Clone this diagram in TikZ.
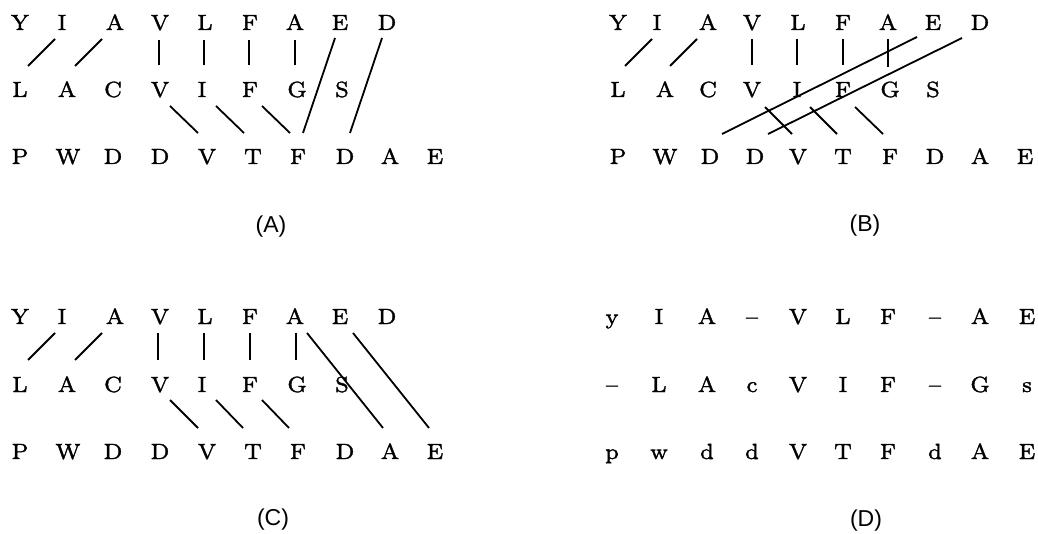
\documentclass[tikz,border=0pt]{standalone}
\usepackage{fontspec}
\newfontfamily\lblfont{Liberation Sans}
\newfontfamily\ltfont{lmroman7-regular}[Extension=.otf, FakeBold=1.5, Ligatures=TeX]
\newcommand\lnk[4]{\draw[lkst] ([shift={(#2)}]#1.base) -- ([shift={(#4)}]#3.base);}
\begin{document}
\begin{tikzpicture}[x=1pt,y=-1pt,
  lt/.style={anchor=base, inner sep=0pt, font=\ltfont\fontsize{22}{26}\selectfont},
  lkst/.style={line width=1.8pt},
  capst/.style={font=\lblfont\fontsize{23}{27}\selectfont, inner sep=0pt}]
\useasboundingbox (0,0) rectangle (1038,534);

% ---------- Panel A ----------
\foreach \x/\t [count=\i] in {20/Y,62/I,115/A,160/V,205/L,250/F,295/A,340/E,387/D}
  \node[lt] (A1-\i) at (\x,30) {\t};
\foreach \x/\t [count=\i] in {20/L,67/A,113/C,160/V,202/I,250/F,297/G,342/S}
  \node[lt] (A2-\i) at (\x,97) {\t};
\foreach \x/\t [count=\i] in {20/P,68/W,113/D,160/D,207/V,253/T,298/F,345/D,390/A,435/E}
  \node[lt] (A3-\i) at (\x,164) {\t};
\lnk{A1-2}{-7,9}{A2-1}{8,-31}
\lnk{A1-3}{-13,9}{A2-2}{8,-31}
\lnk{A1-4}{-1,10}{A2-4}{-1,-32}
\lnk{A1-5}{-1,10}{A2-5}{2,-32}
\lnk{A1-6}{-1,10}{A2-6}{-1,-32}
\lnk{A1-7}{0,10}{A2-7}{-2,-32}
\lnk{A1-8}{-5,8}{A3-7}{5,-31}
\lnk{A1-9}{-5,8}{A3-8}{5,-31}
\lnk{A2-4}{10,9}{A3-5}{-9,-31}
\lnk{A2-5}{14,9}{A3-6}{-9,-31}
\lnk{A2-6}{12,9}{A3-7}{-8,-31}
\node[capst] (la) at (271,227) {(A)};

% ---------- Panel B ----------
\foreach \x/\t [count=\i] in {618/Y,657/I,708/A,752/V,798/L,843/F,888/A,933/E,980/D}
  \node[lt] (B1-\i) at (\x,30) {\t};
\foreach \x/\t [count=\i] in {618/L,665/A,708/C,752/V,797/I,843/F,890/G,933/S}
  \node[lt] (B2-\i) at (\x,97) {\t};
\foreach \x/\t [count=\i] in {618/P,665/W,710/D,755/D,798/V,843/T,890/F,935/D,980/A,1025/E}
  \node[lt] (B3-\i) at (\x,164) {\t};
\lnk{B1-2}{-5,9}{B2-1}{7,-31}
\lnk{B1-3}{-11,9}{B2-2}{5,-31}
\lnk{B1-4}{0,9}{B2-4}{0,-32}
\lnk{B1-5}{-1,9}{B2-5}{0,-32}
\lnk{B1-6}{0,9}{B2-6}{0,-32}
\lnk{B1-7}{0,9}{B2-7}{-2,-30}
\lnk{B1-8}{-16,7}{B3-3}{12,-30}
\lnk{B1-9}{-18,8}{B3-4}{13,-30}
\lnk{B2-4}{13,10}{B3-5}{-6,-30}
\lnk{B2-5}{13,10}{B3-6}{-6,-30}
\lnk{B2-6}{12,10}{B3-7}{-7,-30}
\node[capst] (lb) at (865,226) {(B)};

% ---------- Panel C ----------
\foreach \x/\t [count=\i] in {20/Y,62/I,115/A,160/V,205/L,250/F,295/A,340/E,387/D}
  \node[lt] (C1-\i) at (\x,324) {\t};
\foreach \x/\t [count=\i] in {20/L,67/A,113/C,160/V,202/I,250/F,297/G,342/S}
  \node[lt] (C2-\i) at (\x,392) {\t};
\foreach \x/\t [count=\i] in {20/P,68/W,113/D,160/D,207/V,253/T,298/F,345/D,390/A,435/E}
  \node[lt] (C3-\i) at (\x,459) {\t};
\lnk{C1-2}{-7,9}{C2-1}{8,-32}
\lnk{C1-3}{-13,9}{C2-2}{8,-32}
\lnk{C1-4}{-2,9}{C2-4}{-2,-32}
\lnk{C1-5}{-1,9}{C2-5}{2,-32}
\lnk{C1-6}{0,9}{C2-6}{0,-32}
\lnk{C1-7}{1,9}{C2-7}{-1,-32}
\lnk{C1-7}{12,9}{C3-9}{-7,-31}
\lnk{C1-8}{13,9}{C3-10}{-6,-31}
\lnk{C2-4}{10,8}{C3-5}{-9,-31}
\lnk{C2-5}{14,8}{C3-6}{-10,-31}
\lnk{C2-6}{12,8}{C3-7}{-9,-31}
\node[capst] (lc) at (273,520) {(C)};

% ---------- Panel D ----------
\foreach \x/\t [count=\i] in {612/y,659/I,707/A,752/–,798/V,843/L,888/F,935/–,980/A,1027/E}
  \node[lt] (D1-\i) at (\x,324) {\t};
\foreach \x/\t [count=\i] in {612/–,659/L,707/A,752/c,798/V,843/I,888/F,935/–,980/G,1027/s}
  \node[lt] (D2-\i) at (\x,392) {\t};
\foreach \x/\t [count=\i] in {612/p,659/w,707/d,752/d,798/V,843/T,888/F,935/d,980/A,1027/E}
  \node[lt] (D3-\i) at (\x,459) {\t};
\node[capst] (ld) at (866,521) {(D)};
\end{tikzpicture}
\end{document}
